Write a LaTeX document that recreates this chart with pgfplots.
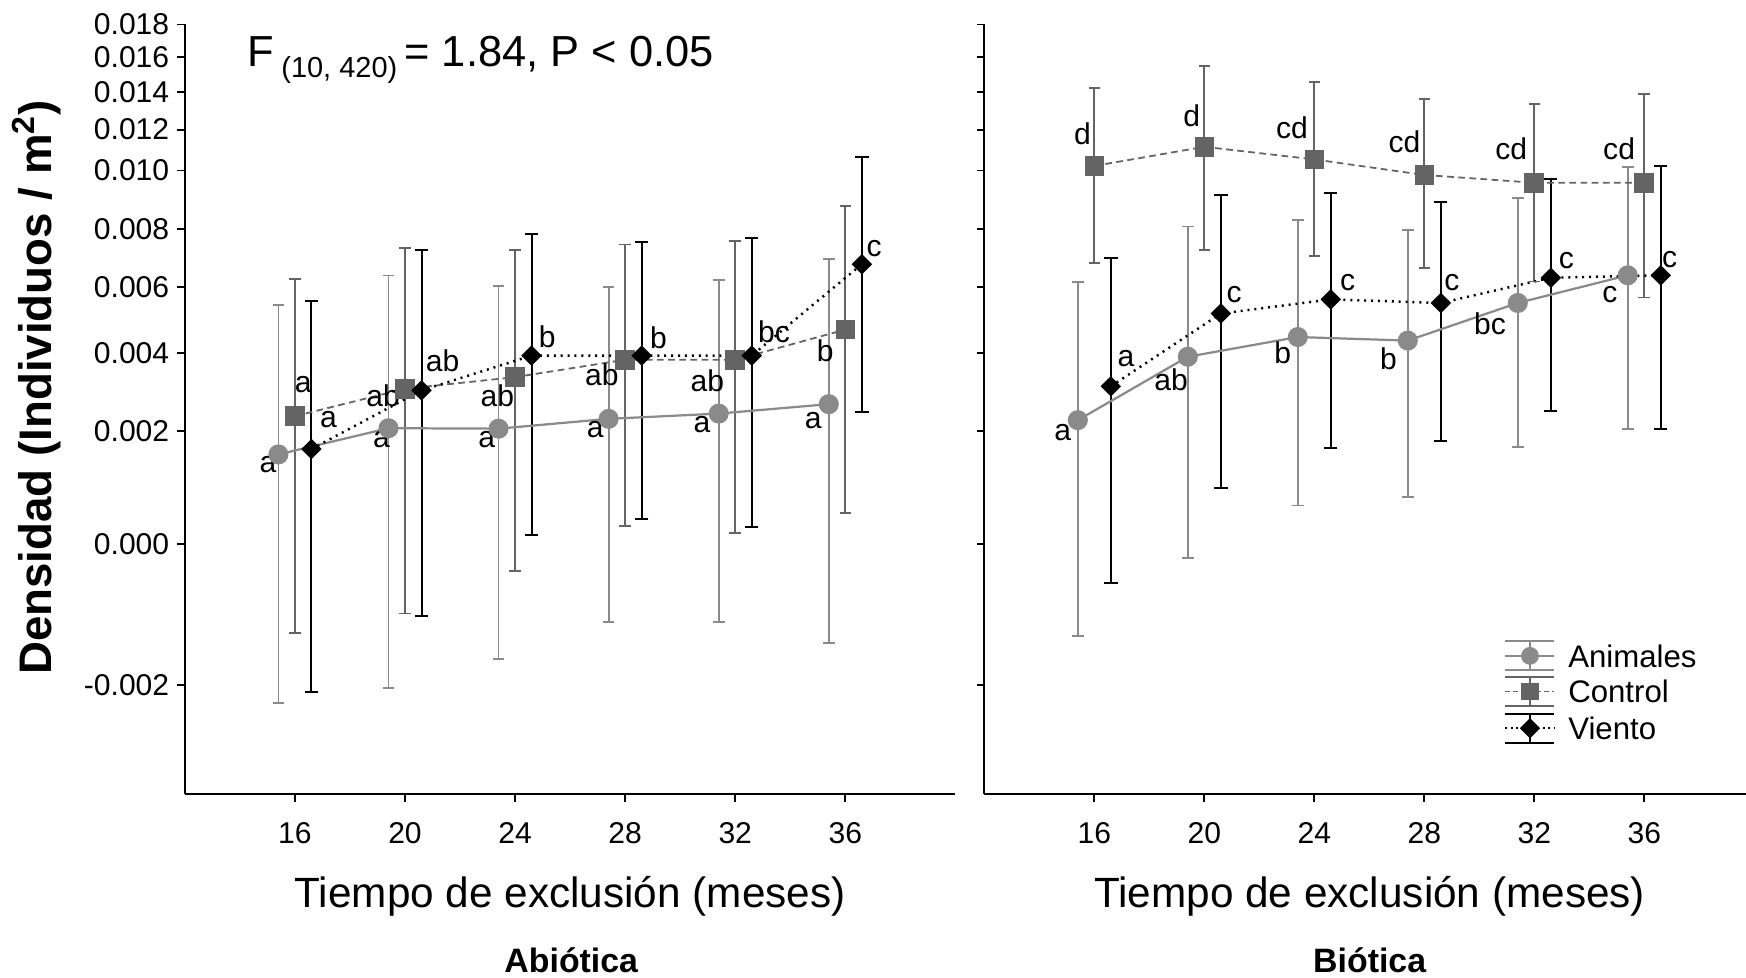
\documentclass[border=0pt]{standalone}
\usepackage{fontspec}
\setmainfont{Liberation Sans}
\usepackage{pgfplots}
\pgfplotsset{compat=1.18}
\definecolor{cAnim}{HTML}{8A8A8A}
\definecolor{cCtrl}{HTML}{646464}
\definecolor{cWind}{HTML}{000000}
\newcommand{\labfont}{\fontsize{13.5}{14}\selectfont}
\newcommand{\ebA}[3]{\addplot[cAnim, line width=0.8pt, mark=-, mark size=2.6pt, mark options={solid, line width=0.8pt}, forget plot] coordinates {(#1,#2) (#1,#3)};}
\newcommand{\ebC}[3]{\addplot[cCtrl, line width=0.8pt, mark=-, mark size=2.6pt, mark options={solid, line width=0.8pt}, forget plot] coordinates {(#1,#2) (#1,#3)};}
\newcommand{\ebV}[3]{\addplot[cWind, line width=0.9pt, mark=-, mark size=3pt, mark options={solid, line width=0.9pt}, forget plot] coordinates {(#1,#2) (#1,#3)};}
\newcommand{\lab}[5]{\node[font=\labfont, inner sep=0pt, xshift=#3pt, yshift=#4pt] at (axis cs:#1,#2) {#5};}
\pgfplotsset{panel/.style={
  scale only axis, height=345.5pt, xmin=12, ymin=-0.003, ymax=0.018,
  y coord trafo/.code={\pgfmathparse{ln(##1+0.0063)}},
  y coord inv trafo/.code={\pgfmathparse{exp(##1)-0.0063}},
  axis x line*=bottom, axis y line*=left,
  axis line style={line width=1pt},
  tick align=outside, major tick length=3.5pt,
  major tick style={line width=0.8pt, black},
  xtick={16,20,24,28,32,36},
  ytick={-0.002,0,0.002,0.004,0.006,0.008,0.010,0.012,0.014,0.016,0.018},
  yticklabels={-0.002,0.000,0.002,0.004,0.006,0.008,0.010,0.012,0.014,0.016,0.018},
  minor tick num=0, clip=false,
  tick label style={font=\fontsize{13.5}{14}\selectfont},
  xticklabel style={yshift=-6pt},
  /pgf/number format/assume math mode=true,
  animline/.style={cAnim, line width=1pt, mark=*, mark size=4pt, mark options={solid, fill=cAnim, draw=cAnim}, forget plot},
  ctrlline/.style={cCtrl, line width=0.8pt, dash pattern=on 3pt off 2pt, mark=square*, mark size=4pt, mark options={solid, fill=cCtrl, draw=cCtrl}, forget plot},
  windline/.style={cWind, line width=1.1pt, dash pattern=on 0.9pt off 2.2pt, mark=square*, mark size=2.7pt, mark options={solid, rotate=45, fill=black, draw=black}, forget plot},
}}
\begin{document}
\begin{tikzpicture}
\path[use as bounding box] (-83pt,-82.5pt) rectangle (701pt,356.5pt);
% ---------------- Abiotica
\begin{axis}[panel, at={(0pt,0pt)}, anchor=south west, width=346pt, xmax=40]
\ebA{15.4}{-0.00212}{0.00545}
\ebA{19.4}{-0.00196}{0.00638}
\ebA{23.4}{-0.00162}{0.00605}
\ebA{27.4}{-0.00114}{0.00601}
\ebA{31.4}{-0.00114}{0.00624}
\ebA{35.4}{-0.00142}{0.00695}
\ebC{16}{-0.00129}{0.00627}
\ebC{20}{-0.00103}{0.00731}
\ebC{24}{-0.00041}{0.00725}
\ebC{28}{0.00031}{0.00745}
\ebC{32}{0.00020}{0.00757}
\ebC{36}{0.00054}{0.00888}
\ebV{16.6}{-0.00200}{0.00556}
\ebV{20.6}{-0.00107}{0.00726}
\ebV{24.6}{0.00017}{0.00783}
\ebV{28.6}{0.00043}{0.00755}
\ebV{32.6}{0.00030}{0.00768}
\ebV{36.6}{0.00260}{0.01095}
\addplot[animline] coordinates {(15.4,0.00167) (19.4,0.00223) (23.4,0.00222) (27.4,0.00244) (31.4,0.00256) (35.4,0.00278)};
\addplot[ctrlline] coordinates {(16,0.00250) (20,0.00315) (24,0.00344) (28,0.00389) (32,0.00389) (36,0.00472)};
\addplot[windline] coordinates {(16.6,0.00178) (20.6,0.00311) (24.6,0.00400) (28.6,0.00400) (32.6,0.00400) (36.6,0.00676)};
\lab{15.4}{0.00167}{-4.7}{-8.7}{a}
\lab{19.4}{0.00223}{-3.2}{-8.3}{a}
\lab{23.4}{0.00222}{-5.3}{-8}{a}
\lab{27.4}{0.00244}{-6}{-7.7}{a}
\lab{31.4}{0.00256}{-7.5}{-7.7}{a}
\lab{35.4}{0.00278}{-7}{-9.5}{a}
\lab{16}{0.00250}{3.7}{11.5}{a}
\lab{20}{0.00315}{-9.8}{-5}{ab}
\lab{24}{0.00344}{-8}{-9.8}{ab}
\lab{28}{0.00389}{-10.5}{-8}{ab}
\lab{32}{0.00389}{-12.5}{-10.5}{ab}
\lab{36}{0.00472}{-9}{-10.3}{b}
\lab{16.6}{0.00178}{7.7}{9}{a}
\lab{20.6}{0.00311}{9.5}{11.3}{ab}
\lab{24.6}{0.00400}{7}{7.5}{b}
\lab{28.6}{0.00400}{7.5}{7}{b}
\lab{32.6}{0.00400}{10}{9.5}{bc}
\lab{36.6}{0.00676}{5.5}{7}{c}
\end{axis}
% ---------------- Biotica
\begin{axis}[panel, at={(359pt,0pt)}, anchor=south west, width=342pt, xmax=39.7,
  yticklabel style={opacity=0}]
\ebA{15.4}{-0.00133}{0.00617}
\ebA{19.4}{-0.00021}{0.00811}
\ebA{23.4}{0.00068}{0.00834}
\ebA{27.4}{0.00083}{0.00797}
\ebA{31.4}{0.00182}{0.00920}
\ebA{35.4}{0.00222}{0.01053}
\ebC{16}{0.00681}{0.01434}
\ebC{20}{0.00725}{0.01555}
\ebC{24}{0.00703}{0.01465}
\ebC{28}{0.00664}{0.01378}
\ebC{32}{0.00619}{0.01351}
\ebC{36}{0.00568}{0.01401}
\ebV{16.6}{-0.00059}{0.00696}
\ebV{20.6}{0.00101}{0.00934}
\ebV{24.6}{0.00180}{0.00942}
\ebV{28.6}{0.00195}{0.00906}
\ebV{32.6}{0.00261}{0.00999}
\ebV{36.6}{0.00222}{0.01058}
\addplot[animline] coordinates {(15.4,0.00241) (19.4,0.00397) (23.4,0.00451) (27.4,0.00441) (31.4,0.00551) (35.4,0.00639)};
\addplot[ctrlline] coordinates {(16,0.01056) (20,0.01142) (24,0.01085) (28,0.01017) (32,0.00984) (36,0.00984)};
\addplot[windline] coordinates {(16.6,0.00321) (20.6,0.00519) (24.6,0.00562) (28.6,0.00551) (32.6,0.00631) (36.6,0.00639)};
\lab{15.4}{0.00241}{-6.8}{-8.5}{a}
\lab{19.4}{0.00397}{-7.5}{-11.3}{ab}
\lab{23.4}{0.00451}{-6.8}{-7.8}{b}
\lab{27.4}{0.00441}{-8.7}{-8.9}{b}
\lab{31.4}{0.00551}{-12.5}{-9.5}{bc}
\lab{35.4}{0.00639}{-8}{-9}{c}
\lab{16}{0.01056}{-5.3}{11}{d}
\lab{20}{0.01142}{-5.7}{11.3}{d}
\lab{24}{0.01085}{-10}{11.3}{cd}
\lab{28}{0.01017}{-8.9}{11}{cd}
\lab{32}{0.00984}{-10.4}{11.3}{cd}
\lab{36}{0.00984}{-11.3}{11}{cd}
\lab{16.6}{0.00321}{6.8}{11}{a}
\lab{20.6}{0.00519}{6}{8}{c}
\lab{24.6}{0.00562}{7.5}{7.3}{c}
\lab{28.6}{0.00551}{5}{8.9}{c}
\lab{32.6}{0.00631}{7}{7.5}{c}
\lab{36.6}{0.00639}{4}{7}{c}
\end{axis}
% ---------------- legend (drawn as plain TikZ symbols, no data)
\begin{scope}[shift={(593pt,62pt)}]
  \draw[cAnim, line width=1pt] (0pt,6.5pt)--(22pt,6.5pt) (0pt,-6.5pt)--(22pt,-6.5pt) (11pt,-6.5pt)--(11pt,6.5pt) (0pt,0pt)--(22pt,0pt);
  \fill[cAnim] (11pt,0pt) circle (4pt);
  \node[anchor=west, font=\fontsize{14}{15}\selectfont, inner sep=0pt] at (28pt,0pt) {Animales};
\end{scope}
\begin{scope}[shift={(593pt,46pt)}]
  \draw[cCtrl, line width=1pt] (0pt,6.5pt)--(22pt,6.5pt) (0pt,-6.5pt)--(22pt,-6.5pt) (11pt,-6.5pt)--(11pt,6.5pt);
  \draw[cCtrl, line width=0.8pt, dash pattern=on 2pt off 1.5pt] (0pt,0pt)--(22pt,0pt);
  \fill[cCtrl] (7pt,-4pt) rectangle (15pt,4pt);
  \node[anchor=west, font=\fontsize{14}{15}\selectfont, inner sep=0pt] at (28pt,0pt) {Control};
\end{scope}
\begin{scope}[shift={(593pt,29.5pt)}]
  \draw[black, line width=1pt] (0pt,6.5pt)--(22pt,6.5pt) (0pt,-6.5pt)--(22pt,-6.5pt) (11pt,-6.5pt)--(11pt,6.5pt);
  \draw[black, line width=1pt, dash pattern=on 0.8pt off 1.6pt] (0pt,0pt)--(22pt,0pt);
  \fill[black] (11pt,-4.5pt)--(15.5pt,0pt)--(11pt,4.5pt)--(6.5pt,0pt)--cycle;
  \node[anchor=west, font=\fontsize{14}{15}\selectfont, inner sep=0pt] at (28pt,0pt) {Viento};
\end{scope}
% ---------------- texts
\node[font=\fontsize{19.5}{20}\selectfont, anchor=west, inner sep=0pt] at (28pt,329.5pt)
  {F\,\raisebox{-5pt}{\fontsize{13}{13}\selectfont (10, 420)}\,= 1.84, P < 0.05};
\node[font=\bfseries\fontsize{20.5}{22}\selectfont, rotate=90] at (-66.5pt,182.5pt) {Densidad (Individuos / m\textsuperscript{2})};
\node[font=\fontsize{19}{20}\selectfont] at (173pt,-46pt) {Tiempo de exclusión (meses)};
\node[font=\fontsize{19}{20}\selectfont] at (532pt,-46pt) {Tiempo de exclusión (meses)};
\node[font=\bfseries\fontsize{15.2}{16}\selectfont] at (173.5pt,-74.5pt) {Abiótica};
\node[font=\bfseries\fontsize{15.2}{16}\selectfont] at (532pt,-74.5pt) {Biótica};
\end{tikzpicture}
\end{document}
